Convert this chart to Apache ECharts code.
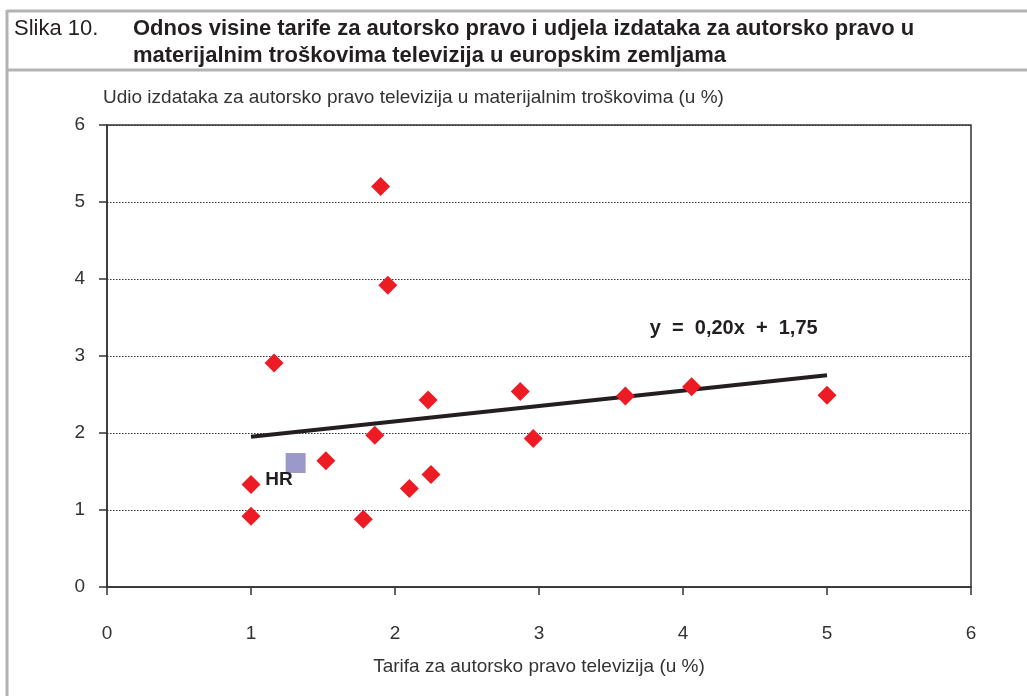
<!DOCTYPE html>
<html>
<head>
<meta charset="utf-8">
<script src="https://cdn.jsdelivr.net/npm/echarts@6/dist/echarts.min.js"></script>
<style>
html,body{margin:0;padding:0;background:#fff;}
#c{width:1027px;height:696px;}
</style>
</head>
<body>
<div id="c"></div>
<script>
// Data
const countriesX = [1.00, 1.00, 1.16, 1.52, 1.78, 1.86, 1.90, 1.95, 2.10, 2.23, 2.25, 2.87, 2.96, 3.60, 4.06, 5.00];
const countriesY = [1.33, 0.92, 2.91, 1.64, 0.88, 1.97, 5.20, 3.92, 1.28, 2.43, 1.46, 2.54, 1.93, 2.48, 2.60, 2.49];
const hrX = [1.31];
const hrY = [1.61];
const trendSlope = 0.20;
const trendIntercept = 1.75;
const trendRange = [1, 5];

const titleRegular = 'Slika 10.';
const titleBold1 = 'Odnos visine tarife za autorsko pravo i udjela izdataka za autorsko pravo u';
const titleBold2 = 'materijalnim troškovima televizija u europskim zemljama';
const yName = 'Udio izdataka za autorsko pravo televizija u materijalnim troškovima (u %)';
const xName = 'Tarifa za autorsko pravo televizija (u %)';
const eqLabel = 'y  =  0,20x  +  1,75';

const scatterData = countriesX.map((x, i) => [x, countriesY[i]]);
const hrData = hrX.map((x, i) => [x, hrY[i]]);
const trendData = trendRange.map(x => [x, trendSlope * x + trendIntercept]);

const chart = echarts.init(document.getElementById('c'), null, {renderer: 'canvas'});
const narrow = '"Liberation Sans Narrow", "Liberation Sans", Arial, sans-serif';
const sans = '"Liberation Sans", Arial, sans-serif';

chart.setOption({
  backgroundColor: '#fff',
  animation: false,
  grid: {left: 107, right: 56, top: 125, bottom: 109, show: true, borderColor: '#333', borderWidth: 1.5, backgroundColor: 'transparent'},
  xAxis: {
    type: 'value', min: 0, max: 6, interval: 1,
    name: xName, nameLocation: 'middle', nameGap: 70,
    nameTextStyle: {fontFamily: narrow, fontSize: 19, color: '#333'},
    axisLine: {show: true, onZero: false, lineStyle: {color: '#333', width: 1.5}},
    axisTick: {show: true, inside: false, length: 8, lineStyle: {color: '#333', width: 1.5}},
    axisLabel: {margin: 37, fontFamily: sans, fontSize: 19, color: '#333', formatter: v => String(v)},
    splitLine: {show: false}
  },
  yAxis: {
    type: 'value', min: 0, max: 6, interval: 1,
    name: yName, nameLocation: 'end', nameGap: 18,
    nameTextStyle: {fontFamily: narrow, fontSize: 19, color: '#333', align: 'left', padding: [0, 0, 0, -4]},
    axisLine: {show: true, onZero: false, lineStyle: {color: '#333', width: 1.5}},
    axisTick: {show: true, inside: false, length: 8, lineStyle: {color: '#333', width: 1.5}},
    axisLabel: {margin: 22, fontFamily: sans, fontSize: 19, color: '#333', formatter: v => String(v)},
    splitLine: {show: true, lineStyle: {type: [1.5, 1.5], color: '#333', width: 1.2}}
  },
  series: [
    {
      type: 'line', data: trendData, symbol: 'none', silent: true,
      lineStyle: {color: '#231f20', width: 4}, z: 3
    },
    {
      type: 'scatter', data: scatterData, symbol: 'diamond', symbolSize: 19,
      itemStyle: {color: '#ed1c24', opacity: 1}, z: 4
    },
    {
      type: 'scatter', data: hrData, symbol: 'rect', symbolSize: 20,
      itemStyle: {color: '#9b99c9', opacity: 1}, z: 4,
      label: {show: true, formatter: 'HR', position: 'left', offset: [12, 17], fontFamily: sans, fontWeight: 'bold', fontSize: 19, color: '#231f20'}
    },
    {
      type: 'scatter', data: [[3.79, 3.36]], symbolSize: 0, silent: true,
      itemStyle: {opacity: 1},
      label: {show: true, formatter: eqLabel, position: 'right', offset: [-8, 0], fontFamily: sans, fontWeight: 'bold', fontSize: 20, color: '#231f20'}
    }
  ],
  graphic: [
    {type: 'line', shape: {x1: 7, y1: 11, x2: 1027, y2: 11}, style: {stroke: '#b3b3b3', lineWidth: 3}},
    {type: 'line', shape: {x1: 7, y1: 10, x2: 7, y2: 696}, style: {stroke: '#b3b3b3', lineWidth: 3}},
    {type: 'line', shape: {x1: 7, y1: 70, x2: 1027, y2: 70}, style: {stroke: '#b3b3b3', lineWidth: 3}},
    {type: 'text', left: 14, top: 18, style: {text: titleRegular, font: '22px ' + narrow, fill: '#231f20'}},
    {type: 'text', left: 133, top: 18, style: {text: titleBold1, font: 'bold 22px ' + narrow, fill: '#231f20'}},
    {type: 'text', left: 133, top: 45, style: {text: titleBold2, font: 'bold 22px ' + narrow, fill: '#231f20'}}
  ]
});
</script>
</body>
</html>
